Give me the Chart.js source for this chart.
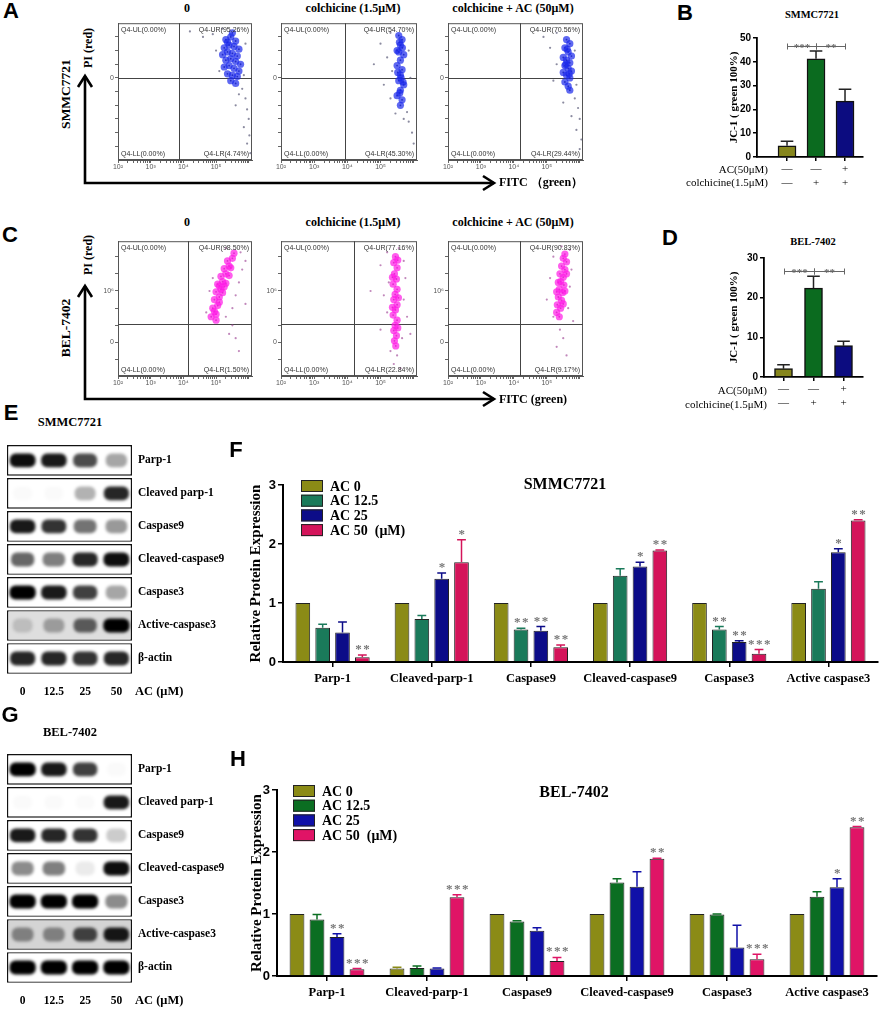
<!DOCTYPE html>
<html><head><meta charset="utf-8">
<script src="https://cdn.jsdelivr.net/npm/chart.js@4"></script>
<style>
body{margin:0;background:#fff;}
#wrap{position:relative;width:886px;height:1012px;overflow:hidden;font-family:"Liberation Serif","Times New Roman",serif;color:#000;}
.c{position:absolute;}
.t{position:absolute;white-space:nowrap;font-weight:bold;line-height:1.1;}
</style></head><body><div id="wrap">
<svg width="886" height="1012" style="position:absolute;left:0;top:0">
 <g stroke="#000" stroke-width="2.6" fill="none" stroke-linejoin="miter">
  <polyline points="85,76 85,183 494,183"/>
  <polyline points="78,87 85,76 92,87"/>
  <polyline points="483,176 494,183 483,190"/>
  <polyline points="85,286 85,399 494,399"/>
  <polyline points="78,297 85,286 92,297"/>
  <polyline points="483,392 494,399 483,406"/>
 </g>
</svg>
</div>
<script>
// ================= DATA =================
// Flow cytometry (A: SMMC7721, C: BEL-7402) — x = log10(FITC), y = PI display units
const flowTitles = ['0', 'colchicine  (1.5μM)', 'colchicine + AC (50μM)'];
const flowXTickVals = [2, 3, 4, 5];
const flowXTickLabels = ['10²', '10³', '10⁴', '10⁵'];
const quadA = [[0.00, 95.26, 0.00, 4.74], [0.00, 54.70, 0.00, 45.30], [0.00, 70.56, 0.00, 29.44]];
const quadC = [[0.00, 98.50, 0.00, 1.50], [0.00, 77.16, 0.00, 22.84], [0.00, 90.83, 0.00, 9.17]];
const gateXA = [3.88, 3.94, 4.18];
const gateXC = [4.15, 4.2, 4.18];
const gateYA = 0;
const gateYC = 2.2;
const yTicksA = [-5, -4, -3, -2, -1, 0, 1, 2, 3];
const yLabelsA = {0: '0'};
const yTicksC = [-2, 0, 2, 4, 6, 8, 10];
const yLabelsC = {0: '0', 6: '10⁶'};

const coreA1 = [[5.3,2.8],[5.45,3.0],[5.6,2.7],[5.25,2.2],[5.4,2.4],[5.55,2.3],[5.7,2.1],[5.2,1.7],[5.35,1.9],[5.5,1.8],[5.65,1.6],[5.3,1.3],[5.45,1.4],[5.6,1.2],[5.75,1.0],[5.25,0.8],[5.4,0.9],[5.55,0.7],[5.7,0.5],[5.35,0.3],[5.5,0.2],[5.65,0.1],[5.45,-0.2],[5.6,-0.4],[5.5,3.3],[5.35,2.6]];
const sparseA1 = [[4.9,3.2],[5.0,2.0],[5.1,0.5],[5.9,2.5],[5.85,0.2],[5.8,-0.8],[5.9,-1.5],[5.95,-2.3],[6.0,-3.0],[5.85,-3.6],[6.02,-4.2],[5.95,-4.8],[5.7,-1.2],[5.6,-2.0],[4.2,3.4],[4.6,3.0],[5.2,3.6],[6.05,-5.5]];
const coreA2 = [[5.55,3.1],[5.65,2.8],[5.6,2.4],[5.5,2.0],[5.7,1.7],[5.6,1.3],[5.5,0.9],[5.65,0.6],[5.6,0.2],[5.55,-0.2],[5.7,-0.5],[5.6,-0.9],[5.5,-1.3],[5.65,-1.6],[5.6,-2.0],[5.55,1.9],[5.62,0.0],[5.58,-1.1],[5.66,2.2],[5.52,0.4],[5.68,-0.3],[5.57,2.6]];
const sparseA2 = [[5.3,3.3],[5.0,2.5],[5.2,1.5],[5.35,0.5],[5.1,-0.5],[5.3,-1.5],[5.85,2.0],[5.9,0.0],[5.8,-2.5],[5.85,-3.2],[5.95,-4.0],[6.0,-4.8],[5.7,-3.0],[4.8,1.0],[5.45,-2.6]];
const coreA3 = [[5.6,2.8],[5.7,2.5],[5.55,2.2],[5.65,1.9],[5.75,1.6],[5.5,1.5],[5.6,1.3],[5.7,1.1],[5.55,0.9],[5.65,0.7],[5.75,0.5],[5.5,0.4],[5.6,0.2],[5.7,0.0],[5.55,-0.3],[5.65,-0.6],[5.7,-0.9],[5.62,2.1],[5.58,1.0],[5.68,0.3]];
const sparseA3 = [[5.3,3.3],[5.1,2.2],[5.3,1.0],[5.2,-0.2],[5.85,2.0],[5.9,-0.5],[5.85,-1.5],[5.95,-2.2],[6.0,-3.0],[5.9,-3.8],[6.05,-4.5],[5.75,-2.8],[5.5,-1.8],[6.0,-5.2],[4.9,3.0]];

const coreC1 = [[4.85,3.0],[5.0,3.3],[4.9,4.0],[5.05,4.3],[4.95,5.0],[5.1,5.3],[5.0,5.9],[5.15,6.2],[5.05,6.8],[5.2,7.1],[5.15,7.7],[5.3,8.0],[5.25,8.6],[5.4,8.9],[5.35,9.5],[5.5,9.8],[5.55,10.4],[4.95,3.6],[5.1,4.7],[5.2,5.8],[5.3,6.9],[5.4,7.8],[5.45,8.7],[5.0,2.6],[5.25,6.5],[5.1,6.6]];
const sparseC1 = [[5.3,3.0],[5.5,4.0],[5.6,5.5],[5.7,7.0],[5.8,8.5],[5.75,10.5],[5.9,9.5],[4.7,3.5],[4.8,6.0],[5.5,2.0],[5.6,0.5],[5.7,-1.0],[5.4,1.0],[5.9,4.5],[5.3,11.0],[4.9,7.5]];
const coreC2 = [[5.45,10.0],[5.4,9.3],[5.5,8.7],[5.42,8.0],[5.48,7.4],[5.38,6.8],[5.5,6.2],[5.44,5.6],[5.4,5.0],[5.5,4.4],[5.45,3.8],[5.38,3.2],[5.5,2.6],[5.44,2.0],[5.4,1.4],[5.48,0.8],[5.42,0.2],[5.46,-0.4],[5.52,9.6],[5.36,7.6],[5.54,5.2],[5.36,4.1],[5.52,1.7]];
const sparseC2 = [[5.2,10.5],[5.0,9.0],[5.25,7.0],[5.1,5.5],[5.2,3.5],[5.0,1.5],[5.7,9.5],[5.75,7.5],[5.7,5.0],[5.8,3.0],[5.65,0.5],[5.5,-1.5],[5.4,-2.5],[5.6,-3.0],[5.3,-1.0],[4.7,6.0],[5.9,1.0],[5.55,11.0]];
const coreC3 = [[5.55,10.3],[5.5,9.8],[5.6,9.4],[5.45,8.9],[5.55,8.5],[5.4,8.0],[5.5,7.6],[5.42,7.1],[5.52,6.7],[5.38,6.2],[5.48,5.8],[5.35,5.3],[5.45,4.9],[5.32,4.4],[5.42,4.0],[5.3,3.5],[5.38,3.0],[5.6,8.0],[5.35,7.0],[5.55,6.0],[5.3,5.9],[5.5,4.5]];
const sparseC3 = [[5.2,10.0],[5.7,10.8],[5.75,8.5],[5.7,6.5],[5.65,4.0],[5.1,7.5],[5.0,5.0],[5.2,3.0],[5.4,1.5],[5.5,0.5],[5.3,-0.5],[5.6,-1.5],[5.8,2.5],[5.45,11.2]];

// JC-1 bars (B, D)
const jcRowAC = ['—', '—', '+'];
const jcRowCol = ['—', '+', '+'];
const jcPos = [1, 2, 3];
const bValues = [4.7, 41.3, 23.5];
const bSD = [1.9, 3.2, 5.0];
const dValues = [2.1, 22.4, 7.9];
const dSD = [1.0, 3.0, 1.1];
const jcSig = [[1, 2, '***'], [2, 3, '**']];
const bSigY = 46.5;
const dSigY = 26.7;

// Western blots (E, G): band darkness 0..1, lanes 0 / 12.5 / 25 / 50 μM
const blotRows = ['Parp-1', 'Cleaved parp-1', 'Caspase9', 'Cleaved-caspase9', 'Caspase3', 'Active-caspase3', 'β-actin'];
const laneLabels = ['0', '12.5', '25', '50'];
const laneCenters = [0.5, 1.5, 2.5, 3.5];
const blotE = [[0.95,0.9,0.7,0.35],[0.02,0.02,0.3,0.85],[0.9,0.8,0.55,0.4],[0.6,0.5,0.85,0.95],[1.0,0.9,0.75,0.35],[0.15,0.3,0.6,1.0],[0.85,0.85,0.8,0.85]];
const blotG = [[1.0,0.9,0.75,0.02],[0.02,0.02,0.02,0.9],[0.9,0.85,0.8,0.2],[0.45,0.5,0.08,0.95],[1.0,1.0,1.0,0.45],[0.4,0.4,0.7,0.9],[1.0,1.0,1.0,1.0]];

// Relative protein expression (F: SMMC7721, H: BEL-7402)
const protCats = ['Parp-1', 'Cleaved-parp-1', 'Caspase9', 'Cleaved-caspase9', 'Caspase3', 'Active caspase3'];
const acLabels = ['AC 0', 'AC 12.5', 'AC 25', 'AC 50  (μM)'];
const fAC0 = [1, 1, 1, 1, 1, 1];
const fAC12 = [0.58, 0.73, 0.55, 1.46, 0.55, 1.24];
const fAC25 = [0.50, 1.41, 0.53, 1.62, 0.34, 1.86];
const fAC50 = [0.08, 1.69, 0.25, 1.89, 0.14, 2.40];
const fSD0 = [0, 0, 0, 0, 0, 0];
const fSD12 = [0.06, 0.06, 0.02, 0.12, 0.05, 0.12];
const fSD25 = [0.18, 0.10, 0.07, 0.07, 0.02, 0.06];
const fSD50 = [0.04, 0.38, 0.04, 0.01, 0.07, 0.01];
const fStar12 = ['', '', '**', '', '**', ''];
const fStar25 = ['', '*', '**', '*', '**', '*'];
const fStar50 = ['**', '*', '**', '**', '***', '**'];
const hAC0 = [1, 0.12, 1, 1, 1, 1];
const hAC12 = [0.91, 0.13, 0.88, 1.51, 0.99, 1.28];
const hAC25 = [0.63, 0.12, 0.73, 1.44, 0.46, 1.43];
const hAC50 = [0.11, 1.27, 0.24, 1.89, 0.27, 2.40];
const hSD0 = [0, 0.02, 0, 0, 0, 0];
const hSD12 = [0.08, 0.03, 0.01, 0.06, 0.01, 0.08];
const hSD25 = [0.05, 0.01, 0.05, 0.24, 0.36, 0.14];
const hSD50 = [0.01, 0.04, 0.06, 0.01, 0.08, 0.01];
const hStar25 = ['**', '', '', '', '', '*'];
const hStar50 = ['***', '***', '***', '**', '***', '**'];

// ================= RENDER =================
const SERIF = "'Liberation Serif','Times New Roman',serif";
const SANS = "'Liberation Sans',Arial,sans-serif";
Chart.defaults.font.family = SERIF;
Chart.defaults.color = '#000';
Chart.defaults.animation = false;
const W = document.getElementById('wrap');

function txt(s, x, y, size, o = {}) {
  const d = document.createElement('div');
  d.className = 't'; d.textContent = s;
  d.style.left = x + 'px'; d.style.top = y + 'px'; d.style.fontSize = size + 'px';
  let tr = o.align === 'right' ? 'translate(-100%,-50%)' : o.align === 'left' ? 'translate(0,-50%)' : 'translate(-50%,-50%)';
  if (o.rot) tr += ' rotate(-90deg)';
  d.style.transform = tr;
  if (o.weight) d.style.fontWeight = o.weight;
  if (o.family) d.style.fontFamily = o.family;
  W.appendChild(d);
}
function mk(left, top, w, h, cfg) {
  const d = document.createElement('div'); d.className = 'c';
  Object.assign(d.style, {left: left + 'px', top: top + 'px', width: w + 'px', height: h + 'px'});
  const cv = document.createElement('canvas');
  cv.width = w; cv.height = h; cv.style.width = w + 'px'; cv.style.height = h + 'px';
  d.appendChild(cv); W.appendChild(d);
  cfg.options = Object.assign({responsive: false, animation: false, events: []}, cfg.options);
  return new Chart(cv, cfg);
}

// ---- plugins ----
const flowPlugin = {
  id: 'flow',
  beforeDatasetsDraw(ch, args, o) {
    const {ctx, chartArea: a, scales: {x, y}} = ch;
    ctx.save(); ctx.strokeStyle = '#555'; ctx.lineWidth = 1;
    ctx.strokeRect(a.left + 0.5, a.top + 0.5, a.width - 1, a.height - 1);
    const gx = Math.round(x.getPixelForValue(o.gx)) + 0.5, gy = Math.round(y.getPixelForValue(o.gy)) + 0.5;
    ctx.strokeStyle = '#444';
    ctx.beginPath(); ctx.moveTo(gx, a.top); ctx.lineTo(gx, a.bottom); ctx.moveTo(a.left, gy); ctx.lineTo(a.right, gy); ctx.stroke();
    ctx.restore();
  },
  afterDatasetsDraw(ch, args, o) {
    const {ctx, chartArea: a} = ch;
    const q = o.q, f = v => v.toFixed(2) + '%)';
    ctx.save(); ctx.font = '7px ' + SANS; ctx.fillStyle = '#333';
    ctx.textBaseline = 'top'; ctx.textAlign = 'left'; ctx.fillText('Q4-UL(' + f(q[0]), a.left + 3, a.top + 3);
    ctx.textAlign = 'right'; ctx.fillText('Q4-UR(' + f(q[1]), a.right - 3, a.top + 3);
    ctx.textBaseline = 'bottom'; ctx.textAlign = 'left'; ctx.fillText('Q4-LL(' + f(q[2]), a.left + 3, a.bottom - 2);
    ctx.textAlign = 'right'; ctx.fillText('Q4-LR(' + f(q[3]), a.right - 3, a.bottom - 2);
    ctx.restore();
  }
};
const errPlugin = {
  id: 'errs',
  afterDatasetsDraw(ch, args, o) {
    const ctx = ch.ctx, ys = ch.scales.y;
    ch.data.datasets.forEach((ds, i) => {
      const meta = ch.getDatasetMeta(i);
      meta.data.forEach((bar, j) => {
        const raw = ds.data[j];
        const v = (raw !== null && typeof raw === 'object') ? raw.y : raw;
        const sd = o.sd[i][j];
        const top = ys.getPixelForValue(v + sd);
        const col = o.color || (Array.isArray(ds.backgroundColor) ? ds.backgroundColor[j] : ds.backgroundColor);
        if (sd > 0) {
          ctx.save(); ctx.strokeStyle = col; ctx.lineWidth = 1.5;
          const hw = bar.width * (o.cap || 0.3);
          ctx.beginPath(); ctx.moveTo(bar.x, bar.y); ctx.lineTo(bar.x, top);
          ctx.moveTo(bar.x - hw, top); ctx.lineTo(bar.x + hw, top); ctx.stroke(); ctx.restore();
        }
        const st = o.stars && o.stars[i] && o.stars[i][j];
        if (st) {
          ctx.save(); ctx.fillStyle = '#777'; ctx.font = 'bold 13px ' + SERIF;
          ctx.textAlign = 'center'; ctx.textBaseline = 'alphabetic';
          try { ctx.letterSpacing = '1.5px'; } catch (e) {}
          ctx.fillText(st, bar.x + 1, top - 2); ctx.restore();
        }
      });
    });
  }
};
const sigPlugin = {
  id: 'sig',
  afterDatasetsDraw(ch, args, o) {
    const {ctx} = ch, x = ch.scales.x, y = ch.scales.y;
    const py = Math.round(y.getPixelForValue(o.y)) + 0.5;
    ctx.save(); ctx.strokeStyle = '#666'; ctx.lineWidth = 1; ctx.fillStyle = '#666';
    ctx.font = 'bold 11px ' + SERIF; ctx.textAlign = 'center'; ctx.textBaseline = 'middle';
    o.pairs.forEach(([a, b, s]) => {
      const xa = Math.round(x.getPixelForValue(a)) + 0.5, xb = Math.round(x.getPixelForValue(b)) + 0.5;
      ctx.beginPath(); ctx.moveTo(xa, py); ctx.lineTo(xb, py);
      ctx.moveTo(xa, py - 3); ctx.lineTo(xa, py + 3); ctx.moveTo(xb, py - 3); ctx.lineTo(xb, py + 3); ctx.stroke();
      ctx.fillText(s, (xa + xb) / 2, py + 2);
    });
    ctx.restore();
  }
};
const lgPlugin = {
  id: 'lg',
  afterDraw(ch, args, o) {
    const {ctx, chartArea: a} = ch;
    ctx.save(); ctx.font = 'bold 14px ' + SERIF; ctx.textBaseline = 'middle';
    ch.data.datasets.forEach((ds, i) => {
      const cy = a.top + o.dy + i * o.gap, x0 = a.left + o.dx;
      ctx.fillStyle = ds.backgroundColor; ctx.fillRect(x0, cy - 6, 22, 12);
      ctx.strokeStyle = '#222'; ctx.lineWidth = 1; ctx.strokeRect(x0 + 0.5, cy - 5.5, 21, 11);
      ctx.fillStyle = '#000'; ctx.fillText(ds.label, x0 + 29, cy + 1);
    });
    ctx.restore();
  }
};
const blurPlugin = {
  id: 'blur',
  beforeDatasetDraw(ch, args) { if (ch.data.datasets[args.index].band) { ch.ctx.save(); ch.ctx.filter = 'blur(1.4px)'; } },
  afterDatasetDraw(ch, args) { if (ch.data.datasets[args.index].band) ch.ctx.restore(); }
};

// ---- flow scatter ----
function flowCfg(core, sparse, coreCol, speckCol, sparseCol, gx, gy, q, yMin, yMax, yTicks, yLabels) {
  const minor = [];
  for (let d = 2; d <= 6; d++) for (let k = 1; k <= 9; k++) { const v = d + Math.log10(k); if (v <= 6.1) minor.push(v); }
  const corePts = core.map(([x, y]) => ({x, y}));
  return {
    type: 'scatter',
    data: {datasets: [
      {data: sparse.map(([x, y]) => ({x, y})), pointRadius: 1.1, backgroundColor: sparseCol, borderWidth: 0},
      {data: corePts, pointRadius: 3.6, backgroundColor: coreCol, borderWidth: 0},
      {data: corePts, pointRadius: 0.9, backgroundColor: speckCol, borderWidth: 0}
    ]},
    options: {
      layout: {padding: {top: 4, right: 3, left: 0, bottom: 0}},
      plugins: {legend: {display: false}, tooltip: {enabled: false}, flow: {gx, gy, q}},
      scales: {
        x: {type: 'linear', min: 2, max: 6.1,
          afterBuildTicks: s => { s.ticks = minor.map(v => ({value: v})); },
          ticks: {autoSkip: false, maxRotation: 0, padding: 0, color: '#555', font: {size: 7, family: SANS},
            callback: v => { const i = flowXTickVals.findIndex(t => Math.abs(t - v) < 1e-6); return i >= 0 ? flowXTickLabels[i] : ''; }},
          grid: {drawOnChartArea: false, tickLength: 3, color: '#666'}, border: {color: '#555'},
          afterFit: s => { s.height = 14; }},
        y: {type: 'linear', min: yMin, max: yMax,
          afterBuildTicks: s => { s.ticks = yTicks.map(v => ({value: v})); },
          ticks: {autoSkip: false, padding: 1, color: '#555', font: {size: 7, family: SANS},
            callback: v => (yLabels[v] !== undefined ? yLabels[v] : '')},
          grid: {drawOnChartArea: false, tickLength: 3, color: '#666'}, border: {color: '#555'},
          afterFit: s => { s.width = 14; }}
      }
    },
    plugins: [flowPlugin]
  };
}
const blueCore = 'rgba(25,40,235,0.7)', blueSpeck = 'rgba(10,10,90,0.8)', blueSparse = 'rgba(90,90,120,0.7)';
const magCore = 'rgba(255,25,230,0.7)', magSpeck = 'rgba(120,20,110,0.7)', magSparse = 'rgba(160,70,150,0.65)';
const flowLeft = [104, 267, 434], flowW = [152, 154, 153];
const coresA = [coreA1, coreA2, coreA3], sparsesA = [sparseA1, sparseA2, sparseA3];
const coresC = [coreC1, coreC2, coreC3], sparsesC = [sparseC1, sparseC2, sparseC3];
const titleX = [187, 353, 513];
for (let i = 0; i < 3; i++) {
  mk(flowLeft[i], 18, flowW[i], 156, flowCfg(coresA[i], sparsesA[i], blueCore, blueSpeck, blueSparse, gateXA[i], gateYA, quadA[i], -6, 4, yTicksA, yLabelsA));
  mk(flowLeft[i], 236, flowW[i], 154, flowCfg(coresC[i], sparsesC[i], magCore, magSpeck, magSparse, gateXC[i], gateYC, quadC[i], -3.9, 11.8, yTicksC, yLabelsC));
  txt(flowTitles[i], titleX[i], 9, 12);
  txt(flowTitles[i], titleX[i], 223, 12);
}

// ---- JC-1 bars ----
function jcCfg(vals, sd, yMax, step, xMin, xMax, sigY, yW) {
  return {
    type: 'bar',
    data: {datasets: [{data: vals.map((v, i) => ({x: jcPos[i], y: v})), backgroundColor: ['#86861c', '#0b6b1f', '#0c0c80'],
      borderColor: '#111', borderWidth: 1.5, barThickness: 18}]},
    options: {
      layout: {padding: {top: 7, right: 7}},
      plugins: {legend: {display: false}, tooltip: {enabled: false},
        errs: {sd: [sd], color: '#222', cap: 0.35}, sig: {pairs: jcSig, y: sigY}},
      scales: {
        x: {type: 'linear', offset: false, min: xMin, max: xMax,
          afterBuildTicks: s => { s.ticks = jcPos.map(v => ({value: v})); },
          ticks: {autoSkip: false, maxRotation: 0, padding: 2, font: {size: 11},
            callback: (v, i) => [jcRowAC[i], jcRowCol[i]]},
          grid: {drawOnChartArea: false, offset: false, tickLength: 4, color: '#000', lineWidth: 1.5},
          border: {color: '#000', width: 1.8}, afterFit: s => { s.height = 32; }},
        y: {min: 0, max: yMax, ticks: {stepSize: step, padding: 2, font: {size: 10, weight: 'bold', family: SANS}},
          grid: {drawOnChartArea: false, tickLength: 4, color: '#000', lineWidth: 1.5},
          border: {color: '#000', width: 1.8},
          title: {display: true, text: 'JC-1 ( green 100%)', font: {size: 11, weight: 'bold'}, padding: {top: 3, bottom: 0}},
          afterFit: s => { s.width = yW; }}
      }
    },
    plugins: [errPlugin, sigPlugin]
  };
}
mk(725, 30, 145, 159, jcCfg(bValues, bSD, 50, 10, -0.035, 3.62, bSigY, 32));
mk(725, 250, 145, 159, jcCfg(dValues, dSD, 30, 10, 0.35, 3.65, dSigY, 39));
txt('SMMC7721', 812, 15, 10.5);
txt('BEL-7402', 813, 242, 10.5);
txt('AC(50μM)', 768, 169, 11, {align: 'right', weight: 'normal'});
txt('colchicine(1.5μM)', 768, 182, 11, {align: 'right', weight: 'normal'});
txt('AC(50μM)', 767, 390, 11, {align: 'right', weight: 'normal'});
txt('colchicine(1.5μM)', 767, 404, 11, {align: 'right', weight: 'normal'});

// ---- western blots ----
function blotCfg(intens, boxFill) {
  const bands = laneCenters.map((c, j) => ({
    band: true,
    data: blotRows.map((r, i) => { const w = 0.3 + 0.12 * intens[i][j]; return [c - w, c + w]; }),
    backgroundColor: blotRows.map((r, i) => 'rgba(0,0,0,' + intens[i][j] + ')'),
    borderWidth: 0, borderRadius: 6, borderSkipped: false, grouped: false,
    barPercentage: 0.42, categoryPercentage: 1, order: 0
  }));
  return {
    type: 'bar',
    data: {labels: blotRows, datasets: [...bands, {
      data: blotRows.map(() => [0, 4]), backgroundColor: boxFill, borderColor: '#111', borderWidth: 1.4,
      borderSkipped: false, grouped: false, barPercentage: 0.93, categoryPercentage: 1, order: 1}]},
    options: {
      indexAxis: 'y',
      layout: {padding: {top: 2, left: 7}},
      plugins: {legend: {display: false}, tooltip: {enabled: false}},
      scales: {
        y: {type: 'category', position: 'right', ticks: {font: {size: 11.5, weight: 'bold'}, padding: 6, crossAlign: 'near'},
          grid: {display: false, drawTicks: false}, border: {display: false}, afterFit: s => { s.width = 100; }},
        x: {type: 'linear', min: 0, max: 4,
          afterBuildTicks: s => { s.ticks = laneCenters.map(v => ({value: v})); },
          ticks: {autoSkip: false, maxRotation: 0, padding: 10, font: {size: 11.5, weight: 'bold'},
            callback: (v, i) => laneLabels[i]},
          grid: {display: false, drawTicks: false}, border: {display: false}, afterFit: s => { s.height = 26; }}
      }
    },
    plugins: [blurPlugin]
  };
}
mk(0, 431, 232, 270, blotCfg(blotE, ['#fff', '#fff', '#fff', '#fff', '#fff', '#dedede', '#fff']));
mk(0, 740, 232, 270, blotCfg(blotG, ['#fff', '#fff', '#fff', '#fff', '#fff', '#d4d4d4', '#fff']));
txt('SMMC7721', 70, 423, 12.5);
txt('BEL-7402', 70, 733, 12.5);
txt('AC (μM)', 135, 692, 12.5, {align: 'left'});
txt('AC (μM)', 135, 1001, 12.5, {align: 'left'});

// ---- relative expression ----
function relCfg(series, sds, stars, colors, yW, padR, lgDx) {
  return {
    type: 'bar',
    data: {labels: protCats, datasets: series.map((s, i) => ({label: acLabels[i], data: s, backgroundColor: colors[i],
      borderColor: '#222', borderWidth: 1, categoryPercentage: 0.8, barPercentage: 0.74}))},
    options: {
      layout: {padding: {top: 10, right: padR}},
      plugins: {legend: {display: false}, tooltip: {enabled: false}, errs: {sd: sds, stars: stars}, lg: {dx: lgDx, dy: 1, gap: 14.7}},
      scales: {
        x: {ticks: {autoSkip: false, maxRotation: 0, padding: 4, font: {size: 12.5, weight: 'bold'}},
          grid: {drawOnChartArea: false, offset: false, tickLength: 5, color: '#000', lineWidth: 1.5},
          border: {color: '#000', width: 2}, afterFit: s => { s.height = 35; }},
        y: {min: 0, max: 3, ticks: {stepSize: 1, padding: 2, font: {size: 13, weight: 'bold', family: SANS}},
          grid: {drawOnChartArea: false, tickLength: 5, color: '#000', lineWidth: 1.5},
          border: {color: '#000', width: 2},
          title: {display: true, text: 'Relative Protein Expression', font: {size: 15, weight: 'bold'}, padding: {top: 4, bottom: 0}},
          afterFit: s => { s.width = yW; }}
      }
    },
    plugins: [errPlugin, lgPlugin]
  };
}
mk(243, 475, 643, 222, relCfg([fAC0, fAC12, fAC25, fAC50], [fSD0, fSD12, fSD25, fSD50], [[], fStar12, fStar25, fStar50],
  ['#8b8b16', '#1a7a5a', '#0c0c88', '#d4145a'], 40, 8, 18));
mk(244, 780, 642, 231, relCfg([hAC0, hAC12, hAC25, hAC50], [hSD0, hSD12, hSD25, hSD50], [[], [], hStar25, hStar50],
  ['#8b8b16', '#0b6e22', '#1010a8', '#e01466'], 33, 9, 16));
txt('SMMC7721', 565, 484, 16);
txt('BEL-7402', 574, 792, 16);

// ---- flow axis labels ----
txt('SMMC7721', 66, 94, 13.5, {rot: true});
txt('PI (red)', 89, 48, 12, {rot: true});
txt('BEL-7402', 66, 328, 13.5, {rot: true});
txt('PI (red)', 89, 255, 12, {rot: true});
txt('FITC （green）', 499, 183, 12, {align: 'left'});
txt('FITC (green)', 499, 400, 12, {align: 'left'});

// ---- panel letters ----
const letters = [['A', 11, 11], ['B', 685, 13], ['C', 10, 235], ['D', 670, 238], ['E', 11, 413], ['F', 236, 450], ['G', 10, 715], ['H', 238, 759]];
letters.forEach(([ch, x, y]) => txt(ch, x, y, 22, {family: SANS}));
</script>
</body></html>
